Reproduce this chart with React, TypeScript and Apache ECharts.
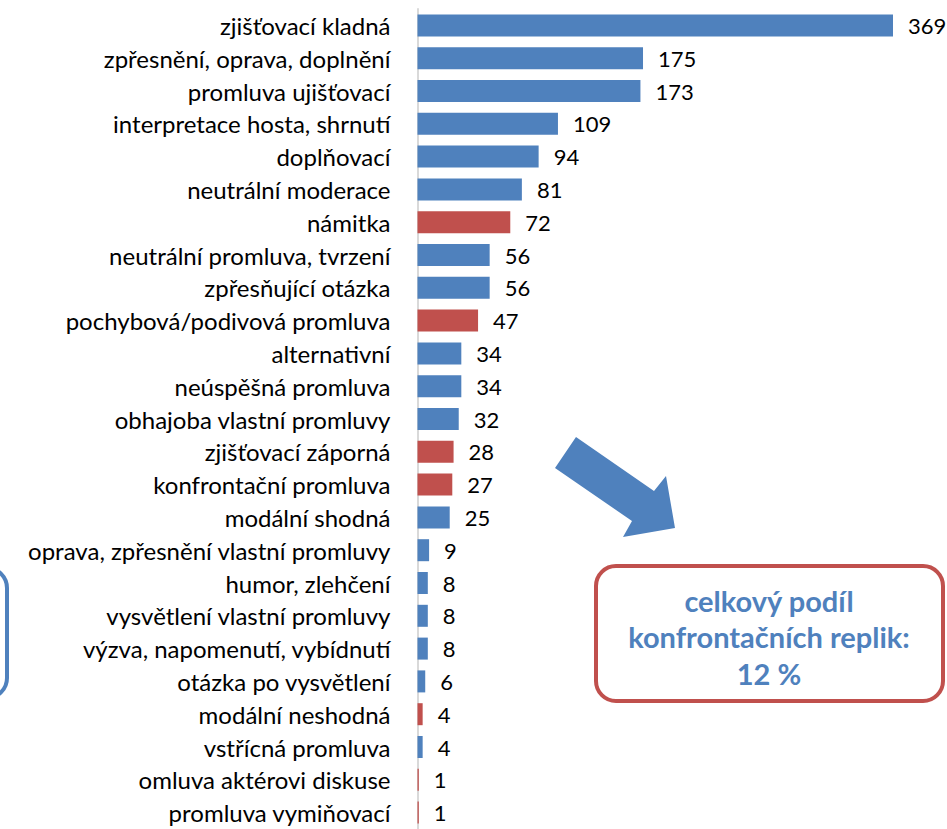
import React, { useEffect, useRef } from "react";
import * as echarts from "echarts";

const categories: string[] = [
  "zjišťovací kladná",
  "zpřesnění, oprava, doplnění",
  "promluva ujišťovací",
  "interpretace hosta, shrnutí",
  "doplňovací",
  "neutrální moderace",
  "námitka",
  "neutrální promluva, tvrzení",
  "zpřesňující otázka",
  "pochybová/podivová promluva",
  "alternativní",
  "neúspěšná promluva",
  "obhajoba vlastní promluvy",
  "zjišťovací záporná",
  "konfrontační promluva",
  "modální shodná",
  "oprava, zpřesnění vlastní promluvy",
  "humor, zlehčení",
  "vysvětlení vlastní promluvy",
  "výzva, napomenutí, vybídnutí",
  "otázka po vysvětlení",
  "modální neshodná",
  "vstřícná promluva",
  "omluva aktérovi diskuse",
  "promluva vymiňovací",
];

const values: number[] = [
  369, 175, 173, 109, 94, 81, 72, 56, 56, 47, 34, 34, 32, 28, 27, 25, 9, 8, 8, 8, 6, 4, 4, 1, 1,
];

const confrontational: boolean[] = [
  false, false, false, false, false, false, true, false, false, true, false, false, false, true, true,
  false, false, false, false, false, false, true, false, true, true,
];

const boxLines: string[] = ["celkový podíl", "konfrontačních replik:", "12 %"];

const BLUE = "#4F81BD";
const RED = "#C0504D";
const FONT = "Lato";

export default function App() {
  const ref = useRef<HTMLDivElement>(null);
  useEffect(() => {
    if (!ref.current) return;
    const chart = echarts.init(ref.current, null, { renderer: "svg" });
    chart.setOption({
      animation: false,
      grid: { left: 417.5, width: 475.5, top: 9, bottom: -7.5, containLabel: false },
      xAxis: { type: "value", min: 0, max: 369, show: false },
      yAxis: {
        type: "category",
        inverse: true,
        data: categories,
        axisLine: { show: true, lineStyle: { color: "#d9d9d9", width: 2 } },
        axisTick: { show: false },
        axisLabel: { color: "#000", fontFamily: FONT, fontSize: 24, margin: 27 },
      },
      series: [
        {
          type: "bar",
          barWidth: 22,
          data: values.map((v, i) => ({
            value: v,
            itemStyle: { color: confrontational[i] ? RED : BLUE },
          })),
          label: {
            show: true,
            position: "right",
            distance: 15,
            color: "#000",
            fontFamily: FONT,
            fontSize: 22,
          },
        },
      ],
      graphic: [
        {
          type: "polygon",
          shape: {
            points: [
              [576, 437],
              [654, 491],
              [666, 476],
              [675, 528],
              [623, 537],
              [632, 521],
              [555, 468],
            ],
          },
          style: { fill: BLUE },
        },
        {
          type: "rect",
          shape: { x: 596, y: 566, width: 347, height: 135, r: 20 },
          style: { fill: "#fff", stroke: RED, lineWidth: 4 },
        },
        ...boxLines.map((t, i) => ({
          type: "text",
          x: 769,
          y: 600 + i * 36.5,
          style: {
            text: t,
            fill: BLUE,
            font: `bold 29px ${FONT}`,
            textAlign: "center",
            textVerticalAlign: "middle",
          },
        })),
        {
          type: "rect",
          shape: { x: -300, y: 568, width: 307, height: 130, r: 20 },
          style: { fill: "none", stroke: BLUE, lineWidth: 4 },
        },
      ],
    });
    return () => chart.dispose();
  }, []);
  return (
    <div
      ref={ref}
      style={{ position: "absolute", left: 0, top: 0, width: 947, height: 829 }}
    />
  );
}
